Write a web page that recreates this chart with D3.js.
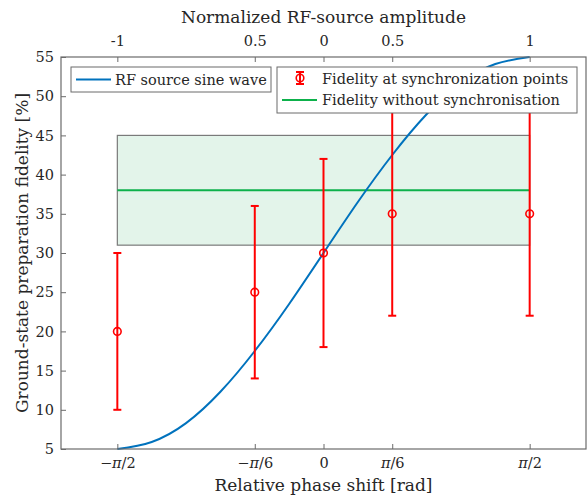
<!DOCTYPE html>
<html>
<head>
<meta charset="utf-8">
<script src="https://cdn.jsdelivr.net/npm/d3@7"></script>
<style>
  body { margin: 0; background: #fff; }
  text { font-family: "DejaVu Serif", serif; }
</style>
</head>
<body>
<div id="svgContainer"></div>
<script>
// phase ticks (rad) and their labels, bottom and top axes
var phaseTicks = [-Math.PI / 2, -Math.PI / 6, 0, Math.PI / 6, Math.PI / 2];
var phaseLabels = ["\u2212\u03c0/2", "\u2212\u03c0/6", "0", "\u03c0/6", "\u03c0/2"];
var ampLabels = ["-1", "0.5", "0", "0.5", "1"];
var yTicks = [5, 10, 15, 20, 25, 30, 35, 40, 45, 50, 55];

// sine wave at steps of pi/12
var waveX = [-6, -5, -4, -3, -2, -1, 0, 1, 2, 3, 4, 5, 6].map(function (k) { return k * Math.PI / 12; });
var waveY = [5, 5.9, 8.3, 12.3, 17.5, 23.5, 30, 36.5, 42.5, 47.7, 51.7, 54.1, 55];

// fidelity at synchronization points
var syncX = [-Math.PI / 2, -Math.PI / 6, 0, Math.PI / 6, Math.PI / 2];
var syncY = [20, 25, 30, 35, 35];
var syncLow = [10, 14, 18, 22, 22];
var syncHigh = [30, 36, 42, 48, 48];

// fidelity without synchronisation: mean and band
var bandX = [-Math.PI / 2, Math.PI / 2];
var bandMean = 38;
var bandLow = 31;
var bandHigh = 45;

var W = 587, H = 496;
var margin = {top: 57, right: 1, bottom: 47, left: 61};
var width = W - margin.left - margin.right,
    height = H - margin.top - margin.bottom;

var svg = d3.select("#svgContainer")
    .append("svg")
    .attr("width", W)
    .attr("height", H);

var g = svg.append("g")
    .attr("transform", "translate(" + margin.left + "," + margin.top + ")");

var x = d3.scaleLinear().domain([-2, 2]).range([0, width]);
var y = d3.scaleLinear().domain([5, 55]).range([height, 0]);

var axisColor = "#6b6b6b", labelColor = "#262626";
var serif = "'DejaVu Serif', serif";

// band
g.append("rect")
    .attr("x", x(bandX[0]))
    .attr("y", y(bandHigh))
    .attr("width", x(bandX[1]) - x(bandX[0]))
    .attr("height", y(bandLow) - y(bandHigh))
    .style("fill", "rgb(227,244,234)")
    .style("stroke", "#7a7a7a")
    .style("stroke-width", 1.2);

g.append("line")
    .attr("x1", x(bandX[0])).attr("x2", x(bandX[1]))
    .attr("y1", y(bandMean)).attr("y2", y(bandMean))
    .style("stroke", "#0db14b")
    .style("stroke-width", 2);

// sine wave
var waveData = waveX.map(function (d, i) { return [d, waveY[i]]; });
g.append("path")
    .datum(waveData)
    .attr("d", d3.line().x(function (d) { return x(d[0]); }).y(function (d) { return y(d[1]); }).curve(d3.curveNatural))
    .style("fill", "none")
    .style("stroke", "#0072BD")
    .style("stroke-width", 2);

// error bars
var red = "#ff0000";
syncX.forEach(function (sx, i) {
    var eb = g.append("g");
    eb.append("line")
        .attr("x1", x(sx)).attr("x2", x(sx))
        .attr("y1", y(syncLow[i])).attr("y2", y(syncHigh[i]))
        .style("stroke", red).style("stroke-width", 2);
    [syncLow[i], syncHigh[i]].forEach(function (v) {
        eb.append("line")
            .attr("x1", x(sx) - 4).attr("x2", x(sx) + 4)
            .attr("y1", y(v)).attr("y2", y(v))
            .style("stroke", red).style("stroke-width", 2);
    });
    eb.append("circle")
        .attr("cx", x(sx)).attr("cy", y(syncY[i]))
        .attr("r", 3.8)
        .style("fill", "none").style("stroke", red).style("stroke-width", 1.6);
});

// axes box
g.append("rect")
    .attr("width", width).attr("height", height)
    .style("fill", "none").style("stroke", axisColor).style("stroke-width", 1.2);

// bottom axis
var xAxis = g.append("g")
    .attr("transform", "translate(0," + height + ")")
    .call(d3.axisBottom(x).tickValues(phaseTicks).tickSize(-5).tickPadding(9)
        .tickFormat(function () { return ""; }));
// top axis
var xTop = g.append("g")
    .call(d3.axisTop(x).tickValues(phaseTicks).tickSize(-5).tickPadding(11)
        .tickFormat(function (d, i) { return ampLabels[i]; }));
// left axis
var yAxis = g.append("g")
    .call(d3.axisLeft(y).tickValues(yTicks).tickSize(-5).tickPadding(7));

[xAxis, xTop, yAxis].forEach(function (a) {
    a.select(".domain").remove();
    a.attr("font-family", null).attr("font-size", null);
    a.selectAll(".tick line").style("stroke", axisColor);
    a.selectAll(".tick text")
        .style("font-family", serif)
        .style("font-size", "14.5px")
        .style("fill", labelColor);
});

// bottom labels with italic pi
xAxis.selectAll(".tick text").each(function (d, i) {
    var t = d3.select(this);
    phaseLabels[i].split(/(\u03c0)/).forEach(function (part) {
        if (part === "") return;
        t.append("tspan")
            .style("font-style", part === "\u03c0" ? "italic" : "normal")
            .text(part);
    });
});

// axis titles
svg.append("text")
    .attr("x", x(0) + margin.left).attr("y", 491)
    .attr("text-anchor", "middle")
    .style("font-size", "17px").style("fill", labelColor)
    .text("Relative phase shift [rad]");

svg.append("text")
    .attr("x", x(0) + margin.left).attr("y", 23)
    .attr("text-anchor", "middle")
    .style("font-size", "17px").style("fill", labelColor)
    .text("Normalized RF-source amplitude");

svg.append("text")
    .attr("transform", "translate(28," + (margin.top + height / 2) + ") rotate(-90)")
    .attr("text-anchor", "middle")
    .style("font-size", "17px").style("fill", labelColor)
    .text("Ground-state preparation fidelity [%]");

// legend 1
var leg1 = svg.append("g").attr("transform", "translate(71,67)");
leg1.append("rect")
    .attr("width", 200).attr("height", 25)
    .style("fill", "#fff").style("stroke", axisColor).style("stroke-width", 1);
leg1.append("line")
    .attr("x1", 5).attr("x2", 40).attr("y1", 12.5).attr("y2", 12.5)
    .style("stroke", "#0072BD").style("stroke-width", 2);
leg1.append("text")
    .attr("x", 44).attr("y", 17.5)
    .style("font-size", "14.5px").style("fill", labelColor)
    .text("RF source sine wave");

// legend 2
var leg2 = svg.append("g").attr("transform", "translate(277,67)");
leg2.append("rect")
    .attr("width", 300).attr("height", 46)
    .style("fill", "#fff").style("stroke", axisColor).style("stroke-width", 1);
leg2.append("line")
    .attr("x1", 23).attr("x2", 23).attr("y1", 5).attr("y2", 17)
    .style("stroke", red).style("stroke-width", 2);
[5, 17].forEach(function (v) {
    leg2.append("line")
        .attr("x1", 19).attr("x2", 27).attr("y1", v).attr("y2", v)
        .style("stroke", red).style("stroke-width", 2);
});
leg2.append("circle")
    .attr("cx", 23).attr("cy", 11).attr("r", 3.8)
    .style("fill", "none").style("stroke", red).style("stroke-width", 1.6);
leg2.append("text")
    .attr("x", 45).attr("y", 16.5)
    .style("font-size", "14.5px").style("fill", labelColor)
    .text("Fidelity at synchronization points");
leg2.append("line")
    .attr("x1", 5).attr("x2", 40).attr("y1", 33).attr("y2", 33)
    .style("stroke", "#0db14b").style("stroke-width", 2);
leg2.append("text")
    .attr("x", 45).attr("y", 38)
    .style("font-size", "14.5px").style("fill", labelColor)
    .text("Fidelity without synchronisation");
</script>
</body>
</html>
